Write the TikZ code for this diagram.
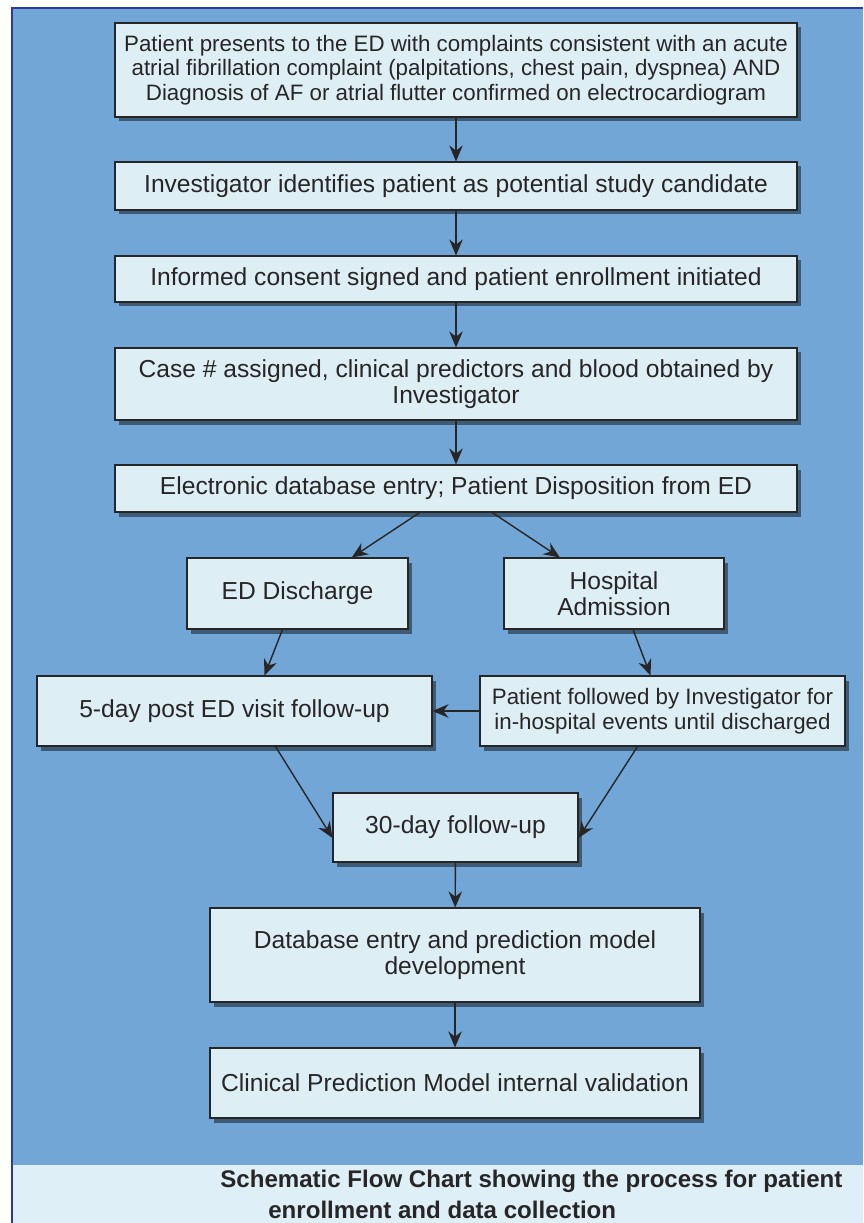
\documentclass[tikz,border=0pt]{standalone}
\usepackage{fontspec}
\setmainfont{Liberation Sans}
\usetikzlibrary{arrows.meta,calc,shadows}
\definecolor{panelblue}{RGB}{114,166,214}
\definecolor{boxfill}{RGB}{222,238,245}
\definecolor{capfill}{RGB}{222,239,248}
\definecolor{edgeblue}{RGB}{40,60,160}
\tikzset{
  flowbox/.style={draw=black!85, line width=0.6pt, fill=boxfill, align=center,
    text=black!85, inner sep=2pt, font=\fontsize{14}{15}\selectfont,
    drop shadow={shadow xshift=0.7mm, shadow yshift=-0.9mm, opacity=0.45, fill=black}},
  smalltext/.style={font=\fontsize{12.7}{14}\selectfont},
  flowarrow/.style={line width=0.8pt, black!85, -{Stealth[length=3.2mm,width=2.7mm]}},
  captext/.style={font=\bfseries\fontsize{13.7}{15}\selectfont, text=black!85, anchor=west, inner sep=0pt}
}
\begin{document}
\begin{tikzpicture}
		%%%%% PANEL %%%%%
		\useasboundingbox (0, 0) rectangle (17.26, -24.46);
		\fill[white] (0, 0) rectangle (17.26, -24.46);
		\fill[panelblue] (0.24, -0.16) rectangle (17.26, -23.3);
		\fill[capfill] (0.24, -23.3) rectangle (17.26, -24.46);
		\draw[edgeblue, line width=0.9pt] (0.24, -24.46) -- (0.24, -0.16) -- (17.26, -0.16);
		
		%%%%% BOXES %%%%%
		\node[flowbox, smalltext, minimum width=13.64cm, minimum height=1.88cm] (present) at (9.12, -1.4)
		{Patient presents to the ED with complaints consistent with an acute\\
		 atrial fibrillation complaint (palpitations, chest pain, dyspnea) AND\\
		 Diagnosis of AF or atrial flutter confirmed on electrocardiogram};
		\node[flowbox, minimum width=13.64cm, minimum height=0.96cm] (identify) at (9.12, -3.72)
		{Investigator identifies patient as potential study candidate};
		\node[flowbox, minimum width=13.64cm, minimum height=0.92cm] (consent) at (9.12, -5.58)
		{Informed consent signed and patient enrollment initiated};
		\node[flowbox, minimum width=13.64cm, minimum height=1.44cm] (casenum) at (9.12, -7.68)
		{Case \# assigned, clinical predictors and blood obtained by\\ Investigator};
		\node[flowbox, minimum width=13.64cm, minimum height=0.94cm] (dbentry) at (9.12, -9.77)
		{Electronic database entry; Patient Disposition from ED};
		
		\node[flowbox, minimum width=4.42cm, minimum height=1.42cm] (eddis) at (5.95, -11.87)
		{ED Discharge};
		\node[flowbox, minimum width=4.40cm, minimum height=1.42cm] (admit) at (12.28, -11.87)
		{Hospital\\ Admission};
		
		\node[flowbox, minimum width=7.9cm, minimum height=1.4cm] (fiveday) at (4.69, -14.22)
		{5-day post ED visit follow-up};
		\node[flowbox, smalltext, minimum width=7.3cm, minimum height=1.4cm] (inhosp) at (13.25, -14.22)
		{Patient followed by Investigator for\\ in-hospital events until discharged};
		
		\node[flowbox, minimum width=4.9cm, minimum height=1.38cm] (thirty) at (9.11, -16.55)
		{30-day follow-up};
		\node[flowbox, minimum width=9.8cm, minimum height=1.88cm] (model) at (9.1, -19.1)
		{Database entry and prediction model\\ development};
		\node[flowbox, minimum width=9.8cm, minimum height=1.4cm] (valid) at (9.1, -21.66)
		{Clinical Prediction Model internal validation};
		
		%%%%% ARROWS %%%%%
		\draw[flowarrow] (present) -- (identify);
		\draw[flowarrow] (identify) -- (consent);
		\draw[flowarrow] (consent) -- (casenum);
		\draw[flowarrow] (casenum) -- (dbentry);
		\draw[flowarrow] (dbentry) -- (eddis);
		\draw[flowarrow] (dbentry) -- (admit);
		\draw[flowarrow] ($(eddis.south)+(-0.3, 0)$) -- ($(fiveday.north)+(0.6, 0)$);
		\draw[flowarrow] ($(admit.south)+(0.38, 0)$) -- ($(inhosp.north)+(-0.24, 0)$);
		\draw[flowarrow] (inhosp.west) -- (fiveday.east);
		\draw[flowarrow] ($(fiveday.south)+(0.82, 0)$) -- ($(thirty.west)+(0, -0.21)$);
		\draw[flowarrow] ($(inhosp.south)+(-0.5, 0)$) -- ($(thirty.east)+(0, -0.21)$);
		\draw[flowarrow] (thirty) -- (model);
		\draw[flowarrow] (model) -- (valid);
		
		%%%%% CAPTION %%%%%
		\node[captext] (cap1) at (4.4, -23.62) {Schematic Flow Chart showing the process for patient};
		\node[captext] (cap2) at (5.36, -24.2) {enrollment and data collection};
\end{tikzpicture}
\end{document}
